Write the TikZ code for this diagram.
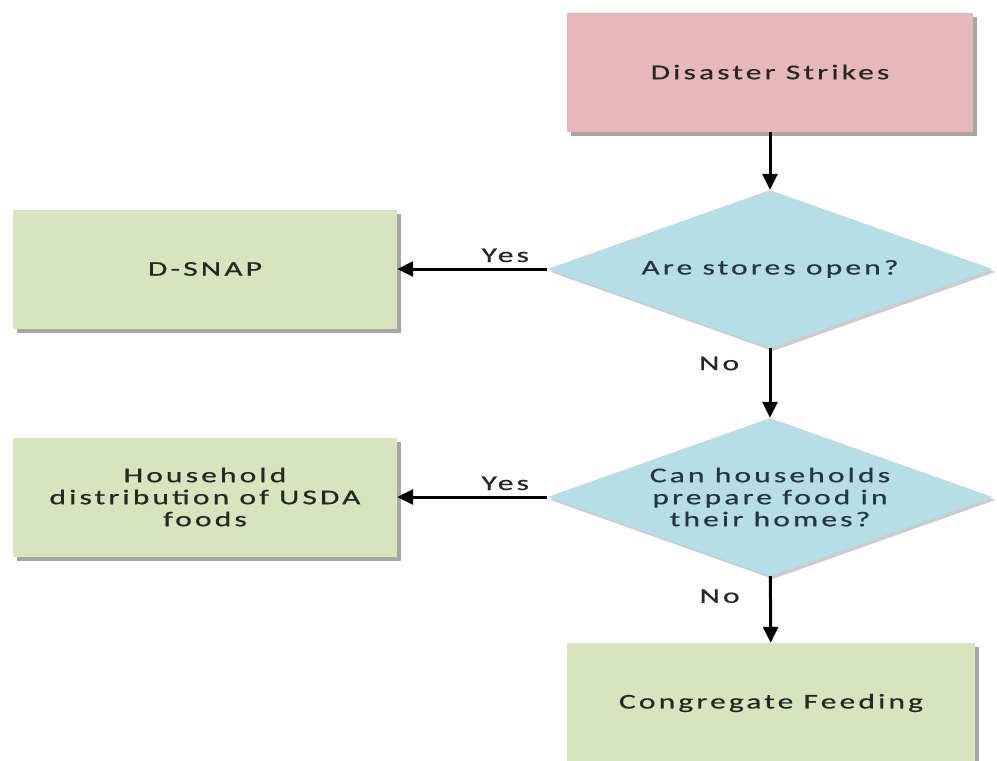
\documentclass[tikz,border=0pt]{standalone}
\usepackage{fontspec}
\setmainfont[FakeStretch=1.5,LetterSpace=15,FakeBold=0.6]{Carlito}
\usetikzlibrary{shapes.geometric,arrows.meta,shadows}

\definecolor{pinkbox}{HTML}{E6B9B8}
\definecolor{greenbox}{HTML}{D7E4BD}
\definecolor{bluebox}{HTML}{B7DDE8}
\definecolor{boxtext}{HTML}{262626}
\definecolor{questext}{HTML}{243640}

\begin{document}
\begin{tikzpicture}[x=1pt,y=-1pt,
    font=\fontsize{21}{22}\selectfont,
    box/.style={rectangle, draw=none, minimum width=406pt, minimum height=119pt,
        align=center, text=boxtext,
        drop shadow={shadow xshift=4pt, shadow yshift=-4pt, fill=black, opacity=0.35}},
    question/.style={diamond, aspect=2.8, draw=none, fill=bluebox, inner sep=0pt,
        minimum width=445pt, minimum height=158pt, align=center, text=questext,
        drop shadow={shadow xshift=3pt, shadow yshift=-3pt, fill=black, opacity=0.2}},
    flow/.style={line width=3pt, -{Triangle[length=16pt,width=15pt]}},
    answer/.style={text=boxtext}]
\useasboundingbox (0,0) rectangle (997,761);
\node[box, fill=pinkbox] (strike) at (770,72) {Disaster Strikes};
\node[question] (stores) at (770,269) {Are stores open?};
\node[box, fill=greenbox, minimum width=384pt] (dsnap) at (205,269) {D-SNAP};
\node[question] (homes) at (770,497) {Can households\\prepare food in\\their homes?};
\node[box, fill=greenbox, minimum width=384pt] (usda) at (205,497) {Household\\distribution of USDA\\foods};
\node[box, fill=greenbox, minimum width=408pt, minimum height=120pt] (congr) at (771,703) {Congregate Feeding};
% connectors
\draw[flow] (strike) -- (stores);
\draw[flow] (stores) -- node[answer, above=2pt, pos=0.28] (yes1) {Yes} (dsnap);
\draw[flow] (stores) -- node[answer, left=26pt, pos=0.22] (no1) {No} (homes);
\draw[flow] (homes) -- node[answer, above=2pt, pos=0.28] (yes2) {Yes} (usda);
\draw[flow] (homes) -- node[answer, left=26pt, pos=0.3] (no2) {No} (congr);
\end{tikzpicture}
\end{document}
